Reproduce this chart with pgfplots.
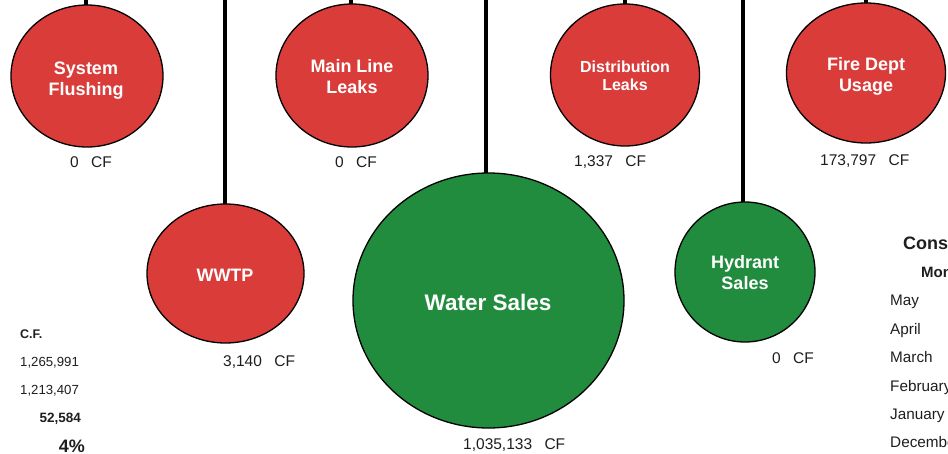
\documentclass[border=0pt]{standalone}
\usepackage{fontspec}
\setmainfont{Liberation Sans}
\usepackage{pgfplots}
\pgfplotsset{compat=1.18}
\definecolor{bubred}{RGB}{218,60,58}
\definecolor{bubgreen}{RGB}{33,140,62}
\definecolor{txt}{RGB}{30,30,30}
\tikzset{
  conn/.style={black, line width=3.2bp},
  bt/.style={text=white, font=\bfseries\fontsize{18bp}{20bp}\selectfont, anchor=base, inner sep=0pt},
  vt/.style={text=txt, font=\fontsize{15.5bp}{18bp}\selectfont, anchor=base west, inner sep=0pt},
  st/.style={text=txt, font=\fontsize{13.2bp}{15bp}\selectfont, anchor=base west, inner sep=0pt},
  rt/.style={text=txt, font=\fontsize{15.3bp}{17bp}\selectfont, anchor=base west, inner sep=0pt}}
\begin{document}
\begin{tikzpicture}
\useasboundingbox (0,0) rectangle (948bp,454bp);
\clip (0,0) rectangle (948bp,454bp);
\begin{axis}[at={(0,0)}, anchor=south west, width=948bp, height=454bp, scale only axis,
  xmin=0, xmax=948, ymin=0, ymax=454, y dir=reverse, axis lines=none, clip=false]
% connector lines
\addplot[conn, forget plot] coordinates {(86,0) (86,6)};
\addplot[conn, forget plot] coordinates {(225,0) (225,205)};
\addplot[conn, forget plot] coordinates {(351,0) (351,5)};
\addplot[conn, forget plot] coordinates {(486,0) (486,174)};
\addplot[conn, forget plot] coordinates {(625,0) (625,5)};
\addplot[conn, forget plot] coordinates {(743,0) (743,203)};
\addplot[conn, forget plot] coordinates {(866,0) (866,4)};
% bubbles
\addplot[only marks, mark=*, mark size=76bp, mark options={fill=bubred, draw=black, line width=1.3bp, yscale=71/76}] coordinates {(87,76)};
\addplot[only marks, mark=*, mark size=76bp, mark options={fill=bubred, draw=black, line width=1.3bp, yscale=71.5/76}] coordinates {(352,75.5)};
\addplot[only marks, mark=*, mark size=74.5bp, mark options={fill=bubred, draw=black, line width=1.3bp, yscale=71/74.5}] coordinates {(625,75)};
\addplot[only marks, mark=*, mark size=79.5bp, mark options={fill=bubred, draw=black, line width=1.3bp, yscale=70/79.5}] coordinates {(866,73)};
\addplot[only marks, mark=*, mark size=78.5bp, mark options={fill=bubred, draw=black, line width=1.3bp, yscale=69.5/78.5}] coordinates {(225.5,273.5)};
\addplot[only marks, mark=*, mark size=135.5bp, mark options={fill=bubgreen, draw=black, line width=1.3bp, yscale=127.5/135.5}] coordinates {(488.5,300.5)};
\addplot[only marks, mark=*, mark size=70bp, mark options={fill=bubgreen, draw=black, line width=1.3bp}] coordinates {(745,272)};
% anchors for the bubble names
\coordinate (n1) at (axis cs:86,75);
\coordinate (n2) at (axis cs:86,96);
\coordinate (n3) at (axis cs:352,73);
\coordinate (n4) at (axis cs:352,94);
\coordinate (n5) at (axis cs:625,73);
\coordinate (n6) at (axis cs:625,91);
\coordinate (n7) at (axis cs:866,71);
\coordinate (n8) at (axis cs:866,92);
\coordinate (n9) at (axis cs:225,282);
\coordinate (n10) at (axis cs:488,311);
\coordinate (n11) at (axis cs:745,269);
\coordinate (n12) at (axis cs:745,290);
% values
\node[vt] at (axis cs:70,167) {0\hspace{0.8em}CF};
\node[vt] at (axis cs:335,167) {0\hspace{0.8em}CF};
\node[vt] at (axis cs:574,166) {1,337\hspace{0.8em}CF};
\node[vt] at (axis cs:820,165) {173,797\hspace{0.8em}CF};
\node[vt] at (axis cs:223,366) {3,140\hspace{0.8em}CF};
\node[vt] at (axis cs:772,363) {0\hspace{0.8em}CF};
\node[vt] at (axis cs:463,449) {1,035,133\hspace{0.8em}CF};
% left summary
\node[st, font=\bfseries\fontsize{12.5bp}{15bp}\selectfont] at (axis cs:20,338) {C.F.};
\node[st] at (axis cs:20,366) {1,265,991};
\node[st] at (axis cs:20,394) {1,213,407};
\node[st, anchor=base east, font=\bfseries\fontsize{13.5bp}{15bp}\selectfont] at (axis cs:81,422) {52,584};
\node[st, anchor=base east, font=\bfseries\fontsize{18bp}{20bp}\selectfont] at (axis cs:85,452) {4\%};
% right table
\node[rt, font=\bfseries\fontsize{18bp}{20bp}\selectfont] at (axis cs:903,249) {Consumption};
\node[rt, font=\bfseries\fontsize{15bp}{17bp}\selectfont] at (axis cs:921,277) {Month};
\node[rt] at (axis cs:890,305) {May};
\node[rt] at (axis cs:890,334) {April};
\node[rt] at (axis cs:890,362) {March};
\node[rt] at (axis cs:890,391) {February};
\node[rt] at (axis cs:890,419) {January};
\node[rt] at (axis cs:890,447) {December};
\end{axis}
% bubble names, on top of the bubbles
\node[bt] at (n1) {System};
\node[bt] at (n2) {Flushing};
\node[bt] at (n3) {Main Line};
\node[bt] at (n4) {Leaks};
\node[bt, font=\bfseries\fontsize{16bp}{18bp}\selectfont] at (n5) {Distribution};
\node[bt, font=\bfseries\fontsize{16bp}{18bp}\selectfont] at (n6) {Leaks};
\node[bt] at (n7) {Fire Dept};
\node[bt] at (n8) {Usage};
\node[bt] at (n9) {WWTP};
\node[bt, font=\bfseries\fontsize{22.5bp}{25bp}\selectfont] at (n10) {Water Sales};
\node[bt] at (n11) {Hydrant};
\node[bt] at (n12) {Sales};
\end{tikzpicture}
\end{document}
